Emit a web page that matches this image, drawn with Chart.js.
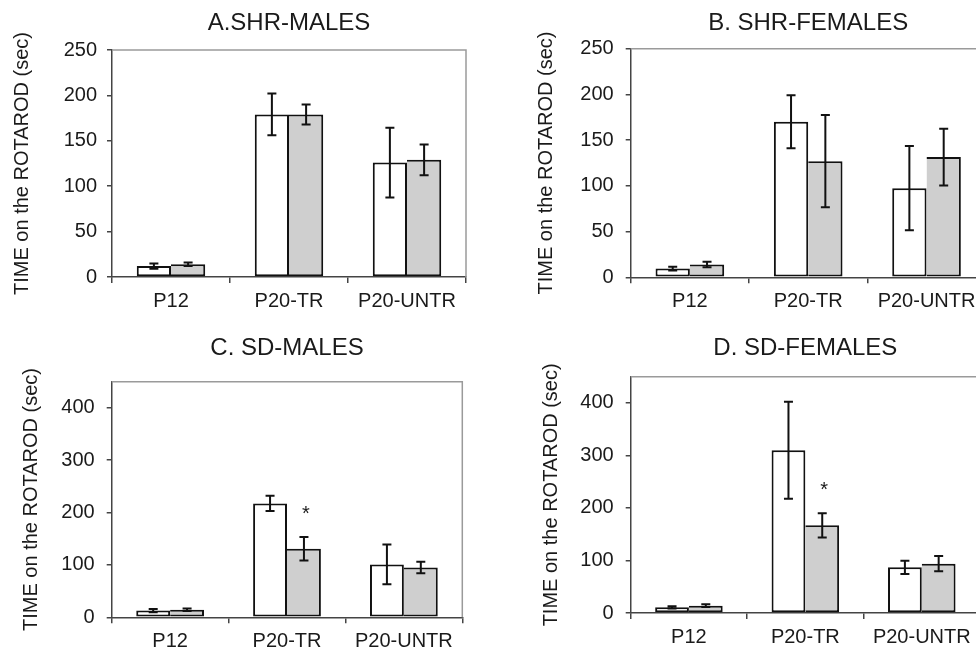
<!DOCTYPE html>
<html>
<head>
<meta charset="utf-8">
<script src="https://cdn.jsdelivr.net/npm/chart.js@4.4.1/dist/chart.umd.min.js"></script>
<style>
  html, body { margin: 0; padding: 0; background: #fff; overflow: hidden; }
  body { width: 976px; height: 651px; position: relative; }
  canvas { position: absolute; }
</style>
</head>
<body>
<canvas id="chartA" width="488" height="325" style="left:0;top:0"></canvas>
<canvas id="chartB" width="520" height="325" style="left:488px;top:0"></canvas>
<canvas id="chartC" width="488" height="326" style="left:0;top:325px"></canvas>
<canvas id="chartD" width="520" height="326" style="left:488px;top:325px"></canvas>
<script>
// categories + axis text
var groups = ['P12', 'P20-TR', 'P20-UNTR'];
var yTitle = 'TIME on the ROTAROD (sec)';

// A. SHR males
var shrMalesWhite = [12, 179, 126];
var shrMalesWhiteErr = [3, 23, 38.5];
var shrMalesGray = [14, 179, 129];
var shrMalesGrayErr = [2, 11, 17];

// B. SHR females
var shrFemWhite = [9.5, 170, 97.5];
var shrFemWhiteErr = [2, 29, 46];
var shrFemGray = [14, 127, 131.5];
var shrFemGrayErr = [3, 50.5, 31];

// C. SD males
var sdMalesWhite = [12.8, 217.5, 101];
var sdMalesWhiteErr = [3, 14.5, 38];
var sdMalesGray = [14.5, 131, 95];
var sdMalesGrayErr = [2.5, 22.5, 11];
var sdMalesStars = [false, true, false];

// D. SD females
var sdFemWhite = [10.8, 310, 87];
var sdFemWhiteErr = [2, 92.5, 12.7];
var sdFemGray = [14, 167, 94];
var sdFemGrayErr = [2.5, 23, 14.6];
var sdFemStars = [false, true, false];

Chart.defaults.font.family = '"Liberation Sans", Arial, sans-serif';
Chart.defaults.color = '#1a1a1a';
Chart.defaults.animation = false;

// error bars and significance stars, placed through the y scale
var errorBars = {
    id: 'errorBars',
    afterDatasetsDraw: function(chart) {
        var ctx = chart.ctx;
        var y = chart.scales.y;
        ctx.save();
        ctx.strokeStyle = '#111';
        ctx.lineWidth = 2;
        chart.data.datasets.forEach(function(ds, i) {
            var meta = chart.getDatasetMeta(i);
            meta.data.forEach(function(bar, j) {
                var v = ds.data[j], e = ds.errors[j];
                var yt = y.getPixelForValue(v + e);
                var yb = y.getPixelForValue(v - e);
                var x = bar.x;
                ctx.beginPath();
                ctx.moveTo(x, yt); ctx.lineTo(x, yb);
                ctx.moveTo(x - 4.5, yt); ctx.lineTo(x + 4.5, yt);
                ctx.moveTo(x - 4.5, yb); ctx.lineTo(x + 4.5, yb);
                ctx.stroke();
                if (ds.stars && ds.stars[j]) {
                    ctx.fillStyle = '#1a1a1a';
                    ctx.font = '20px "Liberation Sans", Arial, sans-serif';
                    ctx.textAlign = 'center';
                    ctx.textBaseline = 'alphabetic';
                    ctx.fillText('*', x + 2, yt - 17);
                }
            });
        });
        ctx.restore();
    }
};

// light grey top and right edges of the plot frame
var frame = {
    id: 'frame',
    afterDraw: function(chart) {
        var a = chart.chartArea, ctx = chart.ctx;
        ctx.save();
        ctx.strokeStyle = '#9a9a9a';
        ctx.lineWidth = 1.5;
        ctx.beginPath();
        ctx.moveTo(a.left, a.top);
        ctx.lineTo(a.right, a.top);
        ctx.lineTo(a.right, a.bottom);
        ctx.stroke();
        ctx.restore();
    }
};

function makePanel(id, title, white, whiteErr, gray, grayErr, stars, p) {
    var canvas = document.getElementById(id);
    var W = canvas.width, H = canvas.height;
    return new Chart(canvas, {
        type: 'bar',
        data: {
            labels: groups,
            datasets: [{
                data: white,
                errors: whiteErr,
                backgroundColor: '#ffffff',
                borderColor: '#111',
                borderWidth: 2,
                borderSkipped: false
            }, {
                data: gray,
                errors: grayErr,
                stars: stars,
                backgroundColor: '#cfcfcf',
                borderColor: '#111',
                borderWidth: {top: 2, right: 2, bottom: 2, left: 0},
                borderSkipped: false
            }]
        },
        options: {
            responsive: false,
            categoryPercentage: 0.58,
            barPercentage: 1.0,
            layout: { padding: { left: 0, top: 0, bottom: 0, right: W - p.right } },
            plugins: {
                legend: { display: false },
                tooltip: { enabled: false },
                title: {
                    display: true,
                    text: title,
                    fullSize: false,
                    color: '#1a1a1a',
                    font: { size: 24, weight: 'normal' },
                    padding: { top: 8.6, bottom: p.top - 37.4 }
                }
            },
            scales: {
                x: {
                    grid: { display: true, drawOnChartArea: false, color: '#444', tickLength: 6, lineWidth: 1.5 },
                    border: { color: '#444', width: 1.5 },
                    ticks: { font: { size: 20 }, padding: 6, color: '#1a1a1a' },
                    afterFit: function(s) { s.height = H - p.bottom; }
                },
                y: {
                    min: 0,
                    max: p.max,
                    grid: { display: true, drawOnChartArea: false, color: '#444', tickLength: 5, lineWidth: 1.5 },
                    border: { color: '#444', width: 1.5 },
                    ticks: { stepSize: p.step, includeBounds: false, font: { size: 20 }, padding: p.tickPad, color: '#1a1a1a' },
                    title: {
                        display: true,
                        text: yTitle,
                        color: '#1a1a1a',
                        font: { size: 20 },
                        padding: { top: p.titlePad, bottom: 0 }
                    },
                    afterFit: function(s) { s.width = p.left; }
                }
            }
        },
        plugins: [errorBars, frame]
    });
}

makePanel('chartA', 'A.SHR-MALES', shrMalesWhite, shrMalesWhiteErr, shrMalesGray, shrMalesGrayErr, null,
    { left: 112, top: 50, right: 466, bottom: 277, max: 250, step: 50, tickPad: 10, titlePad: 10 });
makePanel('chartB', 'B. SHR-FEMALES', shrFemWhite, shrFemWhiteErr, shrFemGray, shrFemGrayErr, null,
    { left: 142.7, top: 48.7, right: 497.7, bottom: 277.3, max: 250, step: 50, tickPad: 12, titlePad: 46 });
makePanel('chartC', 'C. SD-MALES', sdMalesWhite, sdMalesWhiteErr, sdMalesGray, sdMalesGrayErr, sdMalesStars,
    { left: 111.7, top: 56.7, right: 462.3, bottom: 292.3, max: 450, step: 100, tickPad: 12, titlePad: 19 });
makePanel('chartD', 'D. SD-FEMALES', sdFemWhite, sdFemWhiteErr, sdFemGray, sdFemGrayErr, sdFemStars,
    { left: 142.7, top: 51.7, right: 492, bottom: 288, max: 450, step: 100, tickPad: 12, titlePad: 51 });
</script>
</body>
</html>
